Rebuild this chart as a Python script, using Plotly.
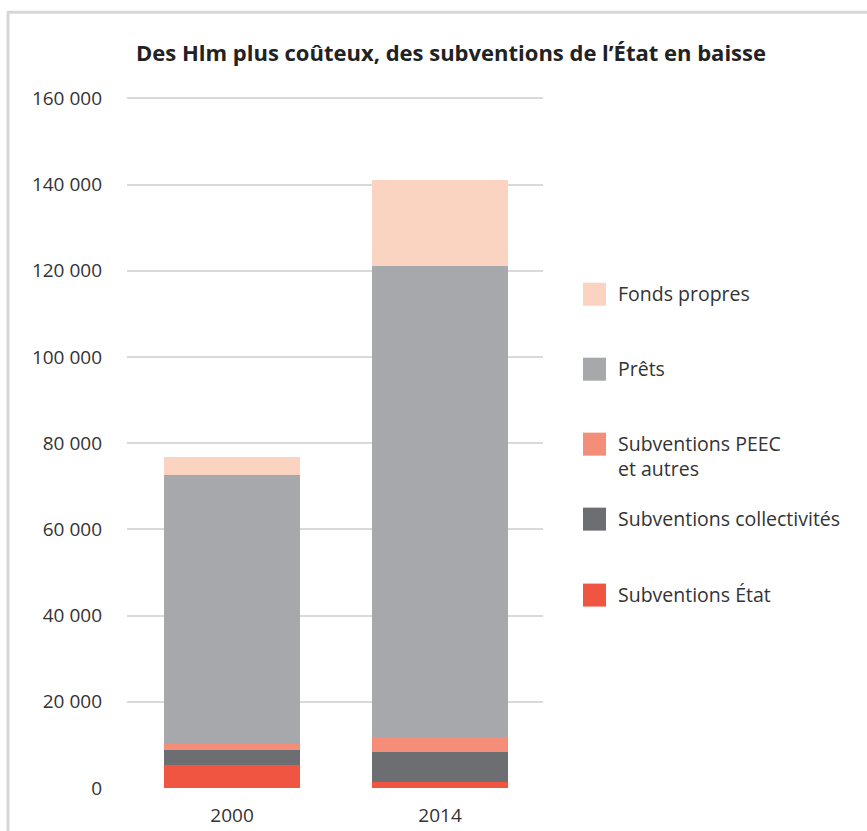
import plotly.graph_objects as go

years = ["2000", "2014"]
series_names = ["Subventions État", "Subventions collectivités", "Subventions PEEC<br>et autres", "Prêts", "Fonds propres"]
etat = [5260, 1460]
collectivites = [3480, 6960]
peec = [1460, 3410]
prets = [62380, 109370]
fonds_propres = [4100, 19800]
colors = ["#F05541", "#6D6E72", "#F48E78", "#A7A8AC", "#FBD3C1"]
y_ticks = [0, 20000, 40000, 60000, 80000, 100000, 120000, 140000, 160000]
y_tick_labels = ["0", "20 000", "40 000", "60 000", "80 000", "100 000", "120 000", "140 000", "160 000"]

values = [etat, collectivites, peec, prets, fonds_propres]

FONT = "Open Sans"
TXT = "#333333"

fig = go.Figure()
for name, vals, col in zip(series_names, values, colors):
    fig.add_trace(go.Bar(x=years, y=vals, name=name, marker=dict(color=col, line=dict(width=0)),
                         width=0.65, showlegend=False))

# plot area geometry (pixels): y=160000 at 98, y=0 at 788
px_l, px_r = 127, 543
y_top_val = 161000
px_t = 98 - (y_top_val - 160000) * 690 / 160000
px_b = 788
px_w, px_h = px_r - px_l, px_b - px_t

fig.update_layout(
    barmode="stack",
    width=867, height=831,
    margin=dict(l=px_l, r=867 - px_r, t=px_t, b=831 - px_b, autoexpand=False),
    paper_bgcolor="white", plot_bgcolor="white",
    font=dict(family=FONT, color=TXT, size=19),
    title=dict(text="<b>Des Hlm plus coûteux, des subventions de l’État en baisse</b>",
               x=451 / 867, xanchor="center", y=1 - 53 / 831, yanchor="middle",
               font=dict(family=FONT, size=22, color="#222222")),
    xaxis=dict(range=[-0.505, 1.495], showgrid=False, zeroline=False, showline=False, automargin=False,
               ticks="", tickfont=dict(size=19, color=TXT), ticklabelstandoff=14),
    yaxis=dict(range=[0, y_top_val], tickvals=y_ticks, ticktext=y_tick_labels, automargin=False,
               showgrid=True, gridcolor="#D9D9D9", gridwidth=2, zeroline=False,
               showline=False, ticks="", tickfont=dict(size=19, color=TXT), ticklabelstandoff=24),
)

def xp(x): return (x - px_l) / px_w
def yp(y): return 1 - (y - px_t) / px_h

# frame border (left + top)
fig.add_shape(type="line", xref="paper", yref="paper", x0=xp(8), x1=xp(8), y0=yp(840), y1=yp(12),
              line=dict(color="#D6D6D6", width=3))
fig.add_shape(type="line", xref="paper", yref="paper", x0=xp(7), x1=xp(870), y0=yp(12), y1=yp(12),
              line=dict(color="#D6D6D6", width=3))

# manual legend (top to bottom: reversed stack order)
legend_y = [294, 369, 444, 519, 595]
for i, idx in enumerate([4, 3, 2, 1, 0]):
    cy = legend_y[i]
    fig.add_shape(type="rect", xref="paper", yref="paper",
                  x0=xp(583), x1=xp(606), y0=yp(cy + 11.5), y1=yp(cy - 11.5),
                  fillcolor=colors[idx], line=dict(width=0))
    fig.add_annotation(xref="paper", yref="paper", x=xp(616), y=yp(cy - 16), xanchor="left", yanchor="top",
                       text=series_names[idx], showarrow=False, align="left",
                       font=dict(family=FONT, size=19.5, color=TXT))

fig.write_html("out.html")
